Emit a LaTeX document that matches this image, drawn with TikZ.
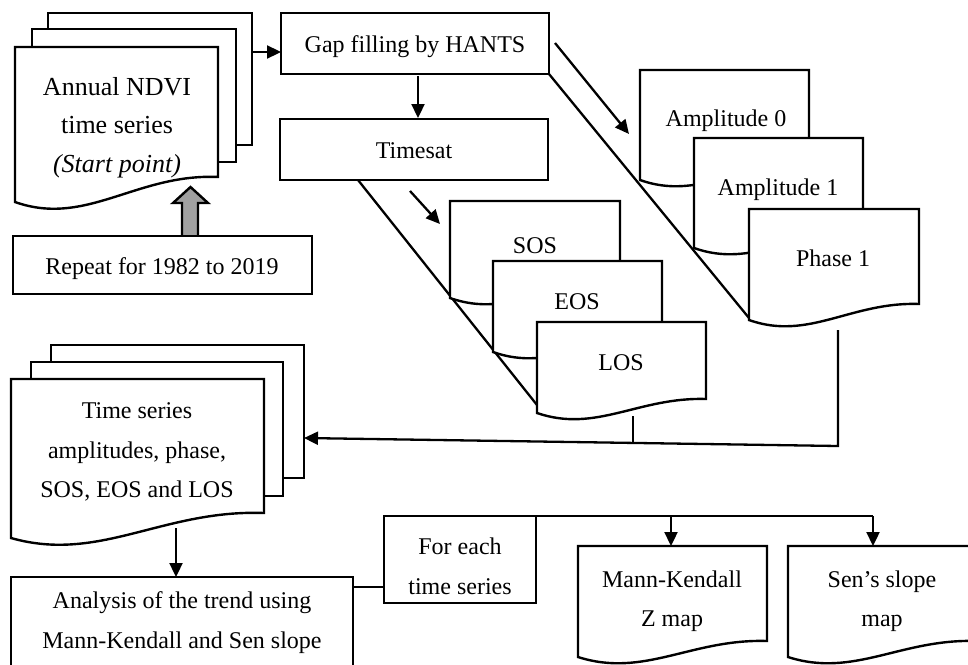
\documentclass[tikz,border=0pt]{standalone}
\usepackage{fontspec}
\setmainfont{Liberation Serif}
\usetikzlibrary{arrows.meta}
\newcommand{\flowdoc}[5]{% left, top, right, bottom-right y, bottom-left y
  \pgfmathsetmacro{\fdW}{#3-#1}%
  \pgfmathsetmacro{\fdD}{#5-#4}%
  \pgfmathsetmacro{\fdAx}{#1+0.35*\fdW}%
  \pgfmathsetmacro{\fdAy}{#5+14+0.45*\fdD}%
  \pgfmathsetmacro{\fdBx}{#1+0.6*\fdW}%
  \pgfmathsetmacro{\fdBy}{#4-0.15*\fdD}%
  \draw[page] (#3,#4) -- (#3,#2) -- (#1,#2) -- (#1,#5)
    .. controls (\fdAx,\fdAy) and (\fdBx,\fdBy) .. (#3,#4) -- cycle;}
\begin{document}
\begin{tikzpicture}[x=1pt,y=-1pt,
  page/.style={draw=black, fill=white, line width=2.4pt},
  boxr/.style={draw=black, fill=white, line width=2.4pt},
  conn/.style={draw=black, line width=2.3pt, -{Triangle[length=14pt,width=13pt]}},
  plainline/.style={draw=black, line width=2.3pt},
  lbl/.style={anchor=base, inner sep=0pt, font=\fontsize{24}{28}\selectfont},
  biglbl/.style={anchor=base, inner sep=0pt, font=\fontsize{26}{30}\selectfont}]
\useasboundingbox (0,0) rectangle (968,664);
\clip (0,0) rectangle (968,664);
\fill[white] (0,0) rectangle (968,664);

% ---------- connector anchor coordinates ----------
\coordinate (ndviR) at (252,52);
\coordinate (gapL) at (281,52);
\coordinate (gapB) at (418,76);
\coordinate (timT) at (418,118);
\coordinate (gapBR) at (549,74);
\coordinate (phaBL) at (749,318);
\coordinate (timBL) at (358,180);
\coordinate (losBL) at (537,405);
\coordinate (gapArS) at (555,43);
\coordinate (gapArE) at (629,134);
\coordinate (timArS) at (410,191);
\coordinate (timArE) at (440,224);
\coordinate (phaB) at (838,330);
\coordinate (phaC) at (838,446);
\coordinate (tsR) at (304,438);
\coordinate (losB) at (633,416);
\coordinate (losC) at (633,443);
\coordinate (tsB) at (176,528);
\coordinate (anT) at (176,577);
\coordinate (anR) at (353,587);
\coordinate (feL) at (384,587);
\coordinate (feTR) at (536,516);
\coordinate (mkJ) at (671,516);
\coordinate (mkT) at (671,546);
\coordinate (ssJ) at (873,516);
\coordinate (ssT) at (873,546);

% ---------- diagonal guide lines ----------
\draw[plainline] (gapBR) -- (phaBL);
\draw[plainline] (timBL) -- (losBL);

% ---------- Annual NDVI stack ----------
\draw[page] (48,13) rectangle (252,145);
\draw[page] (32,29) rectangle (236,162);
\flowdoc{15}{47}{218}{177}{202}
\node[biglbl] (ndvi1) at (117,95) {Annual NDVI};
\node[biglbl] (ndvi2) at (117,133) {time series};
\node[biglbl] (ndvi3) at (117,172) {\textit{(Start point)}};

% gray block arrow
\draw[line width=2.4pt, fill={rgb,255:red,160;green,160;blue,160}, line join=miter]
  (182,236) -- (182,203) -- (173,203) -- (190.5,187) -- (208,203) -- (198,203) -- (198,236);

% Repeat box
\draw[boxr] (13,236) rectangle (312,294);
\node[lbl] (rep) at (162,274) {Repeat for 1982 to 2019};

% Gap filling
\draw[boxr] (281,13) rectangle (549,74);
\node[lbl] (gap) at (415,52) {Gap filling by HANTS};

% Timesat
\draw[boxr] (280,119) rectangle (548,180);
\node[lbl] (tim) at (414,158) {Timesat};

% SOS / EOS / LOS
\flowdoc{450}{201}{620}{282}{298}
\node[lbl] (sos) at (535,253) {SOS};
\flowdoc{493}{261}{662}{336}{352}
\node[lbl] (eos) at (577,309) {EOS};
\flowdoc{537}{322}{706}{399}{413}
\node[lbl] (los) at (621,370) {LOS};

% Amplitudes / Phase
\flowdoc{640}{70}{809}{164}{180}
\node[lbl] (amp0) at (726,126) {Amplitude 0};
\flowdoc{694}{138}{863}{232}{248}
\node[lbl] (amp1) at (778,195) {Amplitude 1};
\flowdoc{749}{209}{919}{304}{320}
\node[lbl] (pha1) at (833,266) {Phase 1};

% Time series stack
\draw[page] (51,345) rectangle (304,478);
\draw[page] (31,362) rectangle (283,496);
\flowdoc{11}{379}{264}{513}{538}
\node[lbl] (ts1) at (137,418) {Time series};
\node[lbl] (ts2) at (137,458) {amplitudes, phase,};
\node[lbl] (ts3) at (137,497) {SOS, EOS and LOS};

% Analysis box
\draw[boxr] (11,577) rectangle (353,700);
\node[lbl] (an1) at (182,608) {Analysis of the trend using};
\node[lbl] (an2) at (182,648) {Mann-Kendall and Sen slope};

% For each box
\draw[boxr] (384,516) rectangle (536,603);
\node[lbl] (fe1) at (460,554) {For each};
\node[lbl] (fe2) at (460,594) {time series};

% Output maps
\flowdoc{578}{546}{767}{641}{657}
\node[lbl] (mk1) at (672,587) {Mann-Kendall};
\node[lbl] (mk2) at (672,626) {Z map};
\flowdoc{788}{546}{976}{641}{657}
\node[lbl] (ss1) at (882,587) {Sen’s slope};
\node[lbl] (ss2) at (882,626) {map};

% ---------- connectors ----------
\draw[conn] (ndviR) -- (gapL);
\draw[conn] (gapB) -- (timT);
\draw[conn] (gapArS) -- (gapArE);
\draw[conn] (timArS) -- (timArE);
\draw[plainline] (losB) -- (losC);
\draw[conn] (phaB) -- (phaC) -- (tsR);
\draw[conn] (tsB) -- (anT);
\draw[plainline] (anR) -- (feL);
\draw[plainline] (feTR) -- (ssJ);
\draw[conn] (mkJ) -- (mkT);
\draw[conn] (ssJ) -- (ssT);
\end{tikzpicture}
\end{document}
